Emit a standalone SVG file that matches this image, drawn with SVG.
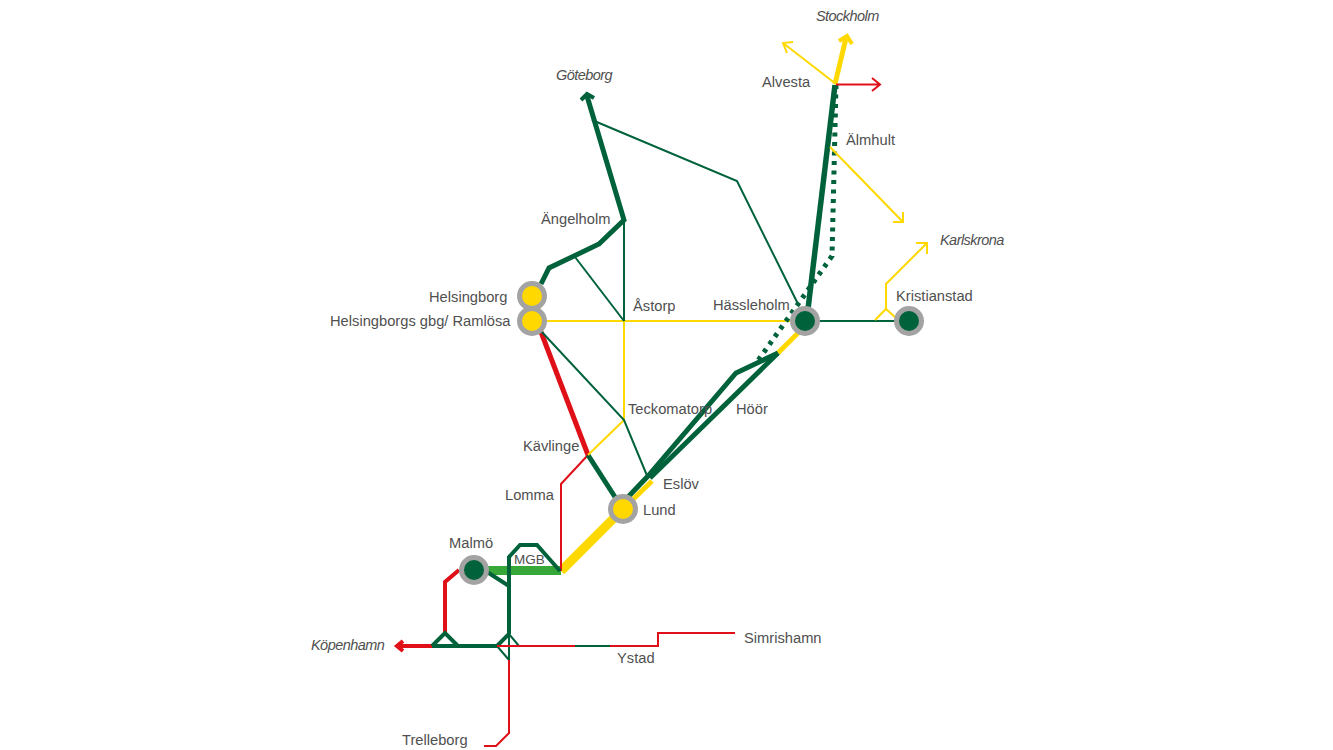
<svg xmlns="http://www.w3.org/2000/svg" width="1333" height="750" viewBox="0 0 1333 750">
<style>
.l{fill:none;stroke-linejoin:miter;stroke-linecap:butt}
.g{stroke:#00623b}.y{stroke:#ffd800}.r{stroke:#df1018}.lg{stroke:#37a737}
.w1{stroke-width:2}.w2{stroke-width:4}.w3{stroke-width:5.500}
.st{stroke:#a3a3a3;stroke-width:5}
text{font-family:"Liberation Sans",Arial,sans-serif;font-size:14.7px;fill:#505050}
.i{font-style:italic;font-size:14.5px;letter-spacing:-.55px}
</style>
<rect width="1333" height="750" fill="#fff"/>
<g id="connectors">
<path class="l y" stroke-width="9" d="M561 571L623 509"/>
<path class="l y" stroke-width="5" d="M623 509L652 481"/>
<path class="l y" stroke-width="5" d="M778 353L805 326"/>
<path class="l lg" stroke-width="9" d="M474 570.500H561"/>
<path class="l r w1" d="M561 571V484L588 455"/>
<path class="l g w2" d="M560 571L537 545H520L509 557V634"/>
<path class="l g w2" d="M484 570L509 586"/>
<path class="l r w2" d="M459 570L445 582V633"/>
<path class="l r w2" d="M433 646H400"/>
<path class="l r w2" d="M403 641L397 646L403 651"/>
<path class="l g w2" d="M432 646H497L509 634"/>
<path class="l g w2" d="M432 646L445 633L458 646"/>
<path class="l g w1" d="M497 646L509 660V634L519 646"/>
<path class="l r w1" d="M497 646H575"/>
<path class="l g w1" d="M575 646H610"/>
<path class="l r w1" d="M610 646H658V633H735"/>
<path class="l r w1" d="M509 660V733L496 746H484"/>
<path class="l r" stroke-width="5" d="M541 332L588 455"/>
<path class="l g" stroke-width="5" d="M588 455L615 497"/>
<path class="l y w1" d="M588 455L624 420V321"/>
<path class="l y w1" d="M545 321H790"/>
<path class="l g w1" d="M540 330L624 420L648 478"/>
<path class="l g w1" d="M624 321L575 257"/>
<path class="l g w1" d="M624 321V220"/>
<path class="l g" stroke-width="5" d="M541 284L549 268L599 244L624 220L587 96"/>
<path class="l g w2" d="M581 100L587 94L594 98"/>
<path class="l g w1" d="M592 120L737 181L798 304"/>
<path class="l g" stroke-width="5" d="M628 497L648 476L736 373L778 353"/>
<path class="l g" stroke-width="5" d="M650 478L778 353"/>
<path class="l g w3" d="M808 309L835 85"/>
<path class="l g" stroke-width="5" stroke-dasharray="4 5.500" d="M836 85L832 256L757 362"/>
<path class="l y" stroke-width="5" d="M835 84L846 38"/>
<path class="l y w2" d="M839 41L847 36L852 44"/>
<path class="l y w1" d="M836 84L783 43M793 42L783 43L787 53"/>
<path class="l r w1" d="M836 84.500H879M872 78L880 84.500L872 91"/>
<path class="l y w1" d="M830 147L903 222M893 222H903V212"/>
<path class="l g w1" d="M818 321H896"/>
<path class="l y w1" d="M875 320L886 309L896 318M886 309V284L927 243M916 243H927V254"/>
</g>
<g id="helsingborg"><circle class="st" cx="532" cy="296" r="12.500" fill="#ffd800"/><text x="429" y="302">Helsingborg</text></g>
<g id="ramlosa"><circle class="st" cx="532" cy="321" r="12.500" fill="#ffd800"/><text x="330" y="326">Helsingborgs gbg/ Ramlösa</text></g>
<g id="hassleholm"><circle class="st" cx="805" cy="321" r="12.500" fill="#00623b"/><text x="713" y="310">Hässleholm</text></g>
<g id="kristianstad"><circle class="st" cx="909" cy="321" r="12.500" fill="#00623b"/><text x="896" y="301">Kristianstad</text></g>
<g id="lund"><circle class="st" cx="623" cy="509" r="12.500" fill="#ffd800"/><text x="643" y="515">Lund</text></g>
<g id="malmo"><circle class="st" cx="474" cy="570" r="12.500" fill="#00623b"/><text x="449" y="548">Malmö</text></g>
<g id="labels">
<text class="i" x="816" y="21">Stockholm</text>
<text class="i" x="556" y="80">Göteborg</text>
<text class="i" x="940" y="245">Karlskrona</text>
<text class="i" x="311" y="650">Köpenhamn</text>
<text x="762" y="87">Alvesta</text>
<text x="846" y="145">Älmhult</text>
<text x="541" y="224">Ängelholm</text>
<text x="633" y="311">Åstorp</text>
<text x="628" y="414">Teckomatorp</text>
<text x="736" y="414">Höör</text>
<text x="523" y="451">Kävlinge</text>
<text x="663" y="489">Eslöv</text>
<text x="505" y="500">Lomma</text>
<text x="514" y="564" style="font-size:13.500px">MGB</text>
<text x="617" y="663">Ystad</text>
<text x="744" y="643">Simrishamn</text>
<text x="402" y="745">Trelleborg</text>
</g>
</svg>
